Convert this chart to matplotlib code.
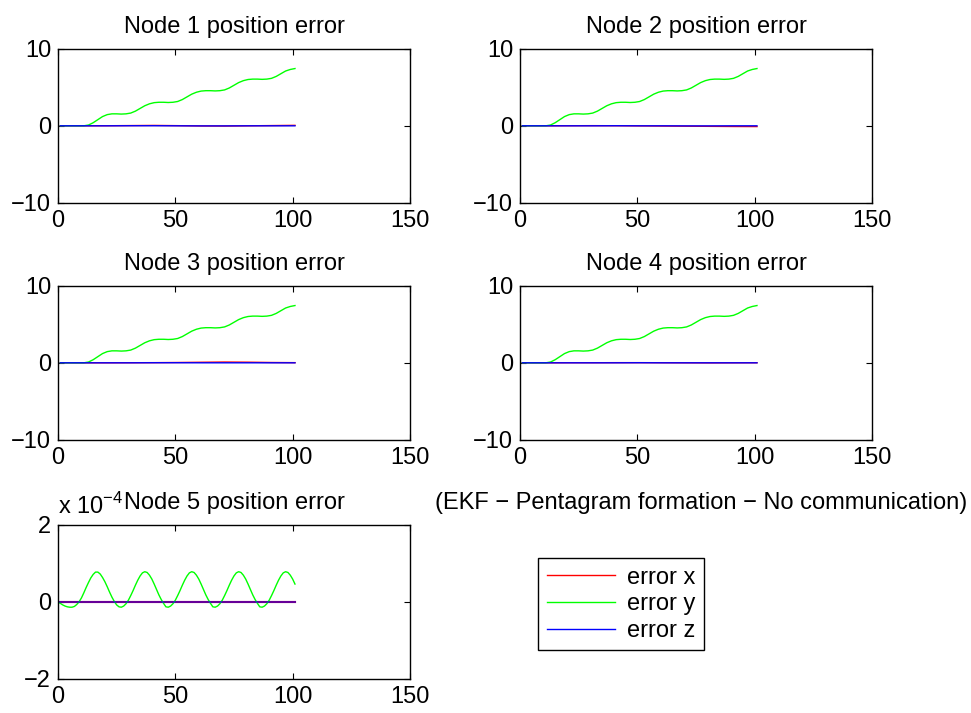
import matplotlib
matplotlib.use('Agg')
import matplotlib.pyplot as plt

# -------- Font / figure style --------
plt.rcParams.update({
    'font.family': ['Liberation Sans', 'DejaVu Sans'],
    'font.size': 17,
    'axes.linewidth': 1.0,
    'mathtext.fontset': 'custom',
    'mathtext.rm': 'Liberation Sans',
})

# -------- Data --------
# time grid for error y of nodes 1-4 (step 2)
t_y = list(range(1, 102, 2))
err_y_node = [0.0, 0.0, 0.0, 0.0, 0.0, 0.0, 0.1, 0.4, 0.8, 1.2,
              1.45, 1.55, 1.55, 1.52, 1.55, 1.65, 1.9, 2.25, 2.6, 2.85,
              3.0, 3.05, 3.05, 3.02, 3.05, 3.15, 3.4, 3.75, 4.1, 4.35,
              4.5, 4.55, 4.55, 4.52, 4.55, 4.65, 4.9, 5.25, 5.6, 5.85,
              6.0, 6.05, 6.05, 6.02, 6.05, 6.15, 6.4, 6.75, 7.1, 7.3,
              7.42]

# coarse grid for the (almost zero) x / z errors of nodes 1-4
t_xz = [1, 11, 21, 31, 41, 51, 61, 71, 81, 91, 101]
err_x_n1 = [0, 0, 0.01, 0.03, 0.05, 0.02, -0.02, -0.03, 0.0, 0.03, 0.06]
err_z_n1 = [0, 0, 0, 0.01, 0.01, 0, -0.01, -0.01, 0, 0, 0]
err_x_n2 = [0, 0, 0.01, 0.02, 0.01, -0.01, -0.03, -0.05, -0.07, -0.09, -0.1]
err_z_n2 = [0, 0, 0, 0, 0.01, 0, 0, -0.01, -0.01, 0, 0]
err_x_n3 = [0, 0, 0, 0.01, 0.02, 0.04, 0.07, 0.1, 0.08, 0.04, 0.02]
err_z_n3 = [0, 0, 0, 0, 0.01, 0.01, 0, 0, 0, 0, 0]
err_x_n4 = [0, 0, 0.01, 0.01, 0.02, 0.02, 0.01, 0, -0.01, 0, 0.01]
err_z_n4 = [0, 0, 0, 0, 0, 0.01, 0, 0, 0, 0, 0]

# node 5 (units of 1e-4), step 1
t_n5 = list(range(0, 102))
err_y_n5 = [0.0, -0.04, -0.08, -0.11, -0.13, -0.14, -0.14, -0.12, -0.07, 0.0,
            0.1, 0.23, 0.37, 0.5, 0.62, 0.71, 0.77, 0.77, 0.72, 0.63,
            0.52, 0.39, 0.25, 0.12, 0.01, -0.08, -0.13, -0.14, -0.11, -0.05,
            0.04, 0.16, 0.29, 0.43, 0.56, 0.67, 0.75, 0.78, 0.76, 0.69,
            0.59, 0.46, 0.32, 0.18, 0.06, -0.04, -0.13, -0.14, -0.11, -0.05,
            0.04, 0.16, 0.29, 0.43, 0.56, 0.67, 0.75, 0.78, 0.76, 0.69,
            0.59, 0.46, 0.32, 0.18, 0.06, -0.04, -0.13, -0.14, -0.11, -0.05,
            0.04, 0.16, 0.29, 0.43, 0.56, 0.67, 0.75, 0.78, 0.76, 0.69,
            0.59, 0.46, 0.32, 0.18, 0.06, -0.04, -0.13, -0.14, -0.11, -0.05,
            0.04, 0.16, 0.29, 0.43, 0.56, 0.67, 0.75, 0.78, 0.76, 0.69,
            0.59, 0.46]
err_x_n5 = [0.0] * len(t_n5)
err_z_n5 = [0.0] * len(t_n5)

x_ticks = [0, 50, 100, 150]
y_ticks = [-10, 0, 10]
y_ticks_n5 = [-2, 0, 2]

nodes = [
    ('Node 1 position error', err_x_n1, err_z_n1),
    ('Node 2 position error', err_x_n2, err_z_n2),
    ('Node 3 position error', err_x_n3, err_z_n3),
    ('Node 4 position error', err_x_n4, err_z_n4),
]

# -------- Layout (axes in figure fractions) --------
fig = plt.figure(figsize=(9.71, 7.13), dpi=100)
lefts = [0.0597, 0.5355]
bottoms = [0.7153, 0.3829, 0.0477]
w, h = 0.3625, 0.2165


def style_axes(ax):
    ax.tick_params(direction='in', top=True, right=True, length=4,
                   width=0.8, pad=5, labelsize=17)
    ax.set_xlim(0, 150)
    ax.set_xticks(x_ticks)
    ax.set_xticklabels([str(v) for v in x_ticks])


lw = 1.0
for i, (title, ex, ez) in enumerate(nodes):
    ax = fig.add_axes([lefts[i % 2], bottoms[i // 2], w, h])
    ax.plot(t_xz, ex, color='#ff0000', lw=lw)
    ax.plot(t_y, err_y_node, color='#00ff00', lw=lw)
    ax.plot(t_xz, ez, color='#0000ff', lw=lw)
    style_axes(ax)
    ax.set_ylim(-10, 10)
    ax.set_yticks(y_ticks)
    ax.set_yticklabels([str(v).replace('-', '\u2212') for v in y_ticks])
    ax.set_title(title, fontsize=17, pad=11)

# node 5
ax5 = fig.add_axes([lefts[0], bottoms[2], w, h])
ax5.plot(t_n5, [v * 1e-4 for v in err_x_n5], color='#ff0000', lw=1.5)
ax5.plot(t_n5, [v * 1e-4 for v in err_y_n5], color='#00ff00', lw=lw)
ax5.plot(t_n5, [v * 1e-4 for v in err_z_n5], color='#0000ff', lw=1.5, alpha=0.6)
style_axes(ax5)
ax5.set_ylim(-2e-4, 2e-4)
ax5.set_yticks([v * 1e-4 for v in y_ticks_n5])
ax5.set_yticklabels([str(v).replace('-', '\u2212') for v in y_ticks_n5])
ax5.set_title('Node 5 position error', fontsize=17, pad=11)
ax5.text(0.0, 1.07, r'x 10$^{\mathregular{-4}}$',
         transform=ax5.transAxes, ha='left', va='baseline', fontsize=17)

# sixth slot: caption + legend
ax6 = fig.add_axes([lefts[1], bottoms[2], w, h])
ax6.axis('off')
ax6.set_title('(EKF \u2212 Pentagram formation \u2212 No communication)',
              fontsize=17, pad=11, x=0.515)
h1, = ax6.plot([], [], color='#ff0000', lw=lw, label='error x')
h2, = ax6.plot([], [], color='#00ff00', lw=lw, label='error y')
h3, = ax6.plot([], [], color='#0000ff', lw=lw, label='error z')
leg = ax6.legend(handles=[h1, h2, h3], loc='center',
                 bbox_to_anchor=(0.287, 0.484), frameon=True, fancybox=False,
                 edgecolor='black', framealpha=1, fontsize=17,
                 handlelength=2.9, labelspacing=0.2, borderpad=0.35,
                 handletextpad=0.5)
leg.get_frame().set_linewidth(1.0)

fig.savefig('out.png', dpi=100)
